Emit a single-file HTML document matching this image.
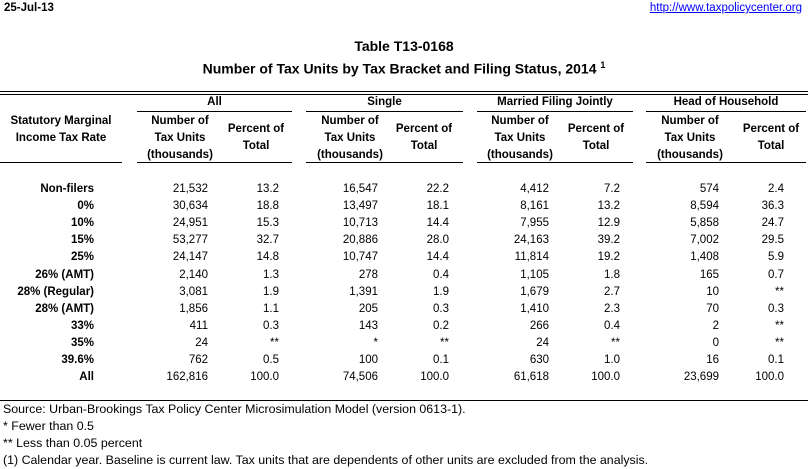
<!DOCTYPE html>
<html><head><meta charset="utf-8"><style>
body{margin:0;width:808px;height:469px;background:#fff;font-family:"Liberation Sans",sans-serif;font-size:11.5px;color:#000;position:relative;overflow:hidden}
.a{position:absolute;white-space:nowrap}
.b{font-weight:bold}
.r{text-align:right}
.c{text-align:center}
.ln{position:absolute;height:1px;background:#000}
.f{font-size:12.4px}
</style></head><body>
<div class="a b" style="left:4px;top:2px">25-Jul-13</div>
<div class="a" style="right:6px;top:2px;color:#00f;text-decoration:underline">http://www.taxpolicycenter.org</div>
<div class="a b c" style="left:0;width:808px;top:38px;font-size:14px">Table T13-0168</div>
<div class="a b c" style="left:0;width:808px;top:60px;font-size:14px">Number of Tax Units by Tax Bracket and Filing Status, 2014 <sup style="font-size:9px">1</sup></div>
<div class="ln" style="left:0;width:808px;top:91px"></div>
<div class="ln" style="left:0;width:808px;top:94px"></div>
<div class="a b c" style="left:0;width:122px;top:113px;line-height:17px">Statutory Marginal<br>Income Tax Rate</div>
<div class="ln" style="left:0;width:122px;top:162px"></div>
<div id="h"></div>
<script>
var g=[["All",137,292,180,256],["Single",306,463,350,424],["Married Filing Jointly",477,633,520,596],["Head of Household",646,806,690,771]];
var s="";
g.forEach(function(x){
s+='<div class="a b c" style="left:'+x[1]+'px;width:'+(x[2]-x[1])+'px;top:96px">'+x[0]+'</div>';
s+='<div class="ln" style="left:'+x[1]+'px;width:'+(x[2]-x[1])+'px;top:111px"></div>';
s+='<div class="ln" style="left:'+x[1]+'px;width:'+(x[2]-x[1])+'px;top:162px"></div>';
s+='<div class="a b c" style="left:'+(x[3]-60)+'px;width:120px;top:113px;line-height:17px">Number of<br>Tax Units<br>(thousands)</div>';
s+='<div class="a b c" style="left:'+(x[4]-50)+'px;width:100px;top:121px;line-height:17px">Percent of<br>Total</div>';
});
var rows=[["Non-filers","21,532","13.2","16,547","22.2","4,412","7.2","574","2.4"],
["0%","30,634","18.8","13,497","18.1","8,161","13.2","8,594","36.3"],
["10%","24,951","15.3","10,713","14.4","7,955","12.9","5,858","24.7"],
["15%","53,277","32.7","20,886","28.0","24,163","39.2","7,002","29.5"],
["25%","24,147","14.8","10,747","14.4","11,814","19.2","1,408","5.9"],
["26% (AMT)","2,140","1.3","278","0.4","1,105","1.8","165","0.7"],
["28% (Regular)","3,081","1.9","1,391","1.9","1,679","2.7","10","**"],
["28% (AMT)","1,856","1.1","205","0.3","1,410","2.3","70","0.3"],
["33%","411","0.3","143","0.2","266","0.4","2","**"],
["35%","24","**","*","**","24","**","0","**"],
["39.6%","762","0.5","100","0.1","630","1.0","16","0.1"],
["All","162,816","100.0","74,506","100.0","61,618","100.0","23,699","100.0"]];
var rx=[208,279,378,449,549,620,719,784];
rows.forEach(function(r,i){
var t=183+i*17.1;
s+='<div class="a b r" style="right:'+(808-94)+'px;top:'+t+'px">'+r[0]+'</div>';
for(var j=0;j<8;j++)s+='<div class="a r" style="right:'+(808-rx[j])+'px;top:'+t+'px">'+r[j+1]+'</div>';
});
document.getElementById("h").innerHTML=s;
</script>
<div class="ln" style="left:0;width:808px;top:400px"></div>
<div class="a f" style="left:3px;top:402px">Source: Urban-Brookings Tax Policy Center Microsimulation Model (version 0613-1).</div>
<div class="a f" style="left:3px;top:419px">* Fewer than 0.5</div>
<div class="a f" style="left:3px;top:436px">** Less than 0.05 percent</div>
<div class="a f" style="left:3px;top:453px">(1) Calendar year. Baseline is current law. Tax units that are dependents of other units are excluded from the analysis.</div>
</body></html>
